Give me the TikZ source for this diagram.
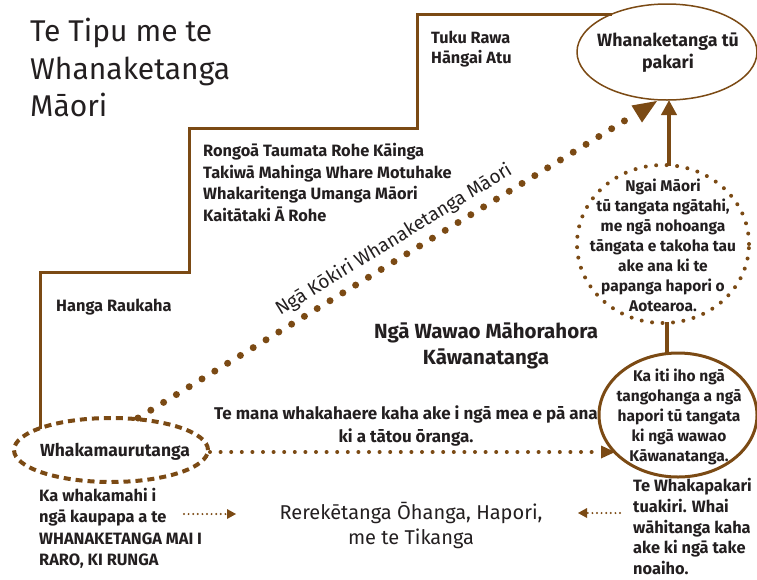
\documentclass[tikz,border=0pt]{standalone}
\usepackage{fontspec}
\setmainfont{Fira Sans}
\usetikzlibrary{shapes.geometric,arrows.meta,calc}
\definecolor{brn}{HTML}{7B4A14}
\definecolor{ink}{HTML}{231F20}
\begin{document}
\begin{tikzpicture}[x=1pt,y=-1pt,
  every node/.style={text=ink},
  bt/.style={font=\bfseries\fontsize{16.4}{21.3}\selectfont, inner sep=0pt},
  rt/.style={font=\fontsize{20}{25}\selectfont, inner sep=0pt},
  titlet/.style={font=\fontsize{30}{37.5}\selectfont, inner sep=0pt},
  ell/.style={ellipse, inner sep=0pt, draw=brn},
  stair/.style={draw=brn, line width=3pt, line join=miter},
  bigdots/.style={draw=brn, line width=7pt, line cap=round, dash pattern=on 0pt off 15pt},
  meddots/.style={draw=brn, line width=4pt, line cap=round, dash pattern=on 0pt off 10.6pt},
  smalldots/.style={draw=brn, line width=2.2pt, line cap=round, dash pattern=on 0pt off 4.6pt},
  thick arrow/.style={draw=brn, line width=4.5pt},
]
\useasboundingbox (0,0) rectangle (757,579);

% ellipses
\node[ell, line width=1.5pt, minimum width=180pt, minimum height=96pt] (top) at (667,52) {};
\node[ell, line width=4pt, dash pattern=on 0pt off 10.5pt, line cap=round, minimum width=172pt, minimum height=158pt] (dc) at (663,244) {};
\node[ell, line width=3pt, minimum width=158pt, minimum height=124pt] (low) at (678,415) {};
\node[ell, line width=4pt, dash pattern=on 7pt off 5pt, minimum width=194pt, minimum height=64pt] (wm) at (111,450) {};

% texts in ellipses
\node[bt, align=center, font=\bfseries\fontsize{17.8}{22}\selectfont] (topt) at (668,53) {Whanaketanga tū\\pakari};
\node[bt, align=center, font=\bfseries\fontsize{15.5}{20}\selectfont] (dct) at (663,245) {Ngai Māori\\tū tangata ngātahi,\\me ngā nohoanga\\tāngata e takoha tau\\ake ana ki te\\papanga hapori o\\Aotearoa.};
\node[bt, align=center, font=\bfseries\fontsize{15.5}{20}\selectfont] (lowt) at (679,417) {Ka iti iho ngā\\tangohanga a ngā\\hapori tū tangata\\ki ngā wawao\\Kāwanatanga.};
\node[bt, font=\bfseries\fontsize{17.5}{21}\selectfont] (wmt) at (115,452) {Whakamaurutanga};

% staircase
\coordinate (s0) at (40,429);
\coordinate (s1) at (40,272);
\coordinate (s2) at (189,272);
\coordinate (s3) at (189,128);
\coordinate (s4) at (417,128);
\coordinate (s5) at (417,14);
\coordinate (s6) at (612,14);
\path[stair] (s0) -- (s1) -- (s2) -- (s3) -- (s4) -- (s5) -- (s6);

% diagonal dotted arrow
\coordinate (d0) at (138,418);
\coordinate (d1) at (657,101);
\path[bigdots] (d0) -- ($(d0)!0.955!(d1)$);
\fill[brn] (d1) -- ++(-25.5,4.5) -- ++(10.5,17) -- cycle;
\node[font=\fontsize{19}{23}\selectfont, inner sep=0pt, rotate=31.5] (kok) at (394,240) {Ngā Kōkiri Whanaketanga Māori};

% vertical connectors
\coordinate (v0) at (669,166);
\coordinate (v1) at (669,100);
\draw[thick arrow, -{Triangle[length=15pt,width=15pt]}] (v0) -- (v1);
\coordinate (w0) at (667,322);
\coordinate (w1) at (667,355);
\draw[thick arrow] (w0) -- (w1);

% horizontal dotted arrow
\coordinate (h0) at (210,452);
\coordinate (h1) at (615,452);
\path[meddots] (h0) -- (601,452);
\fill[brn] (h1) -- ++(-14,-6.5) -- ++(0,13) -- cycle;

% labels
\node[titlet, anchor=north west, align=left] (title) at (30,18) {Te Tipu me te\\Whanaketanga\\Māori};
\node[bt, anchor=north west, align=left, font=\bfseries\fontsize{16.3}{19.5}\selectfont] (tuku) at (431,31) {Tuku Rawa\\Hāngai Atu};
\node[bt, anchor=north west, align=left, font=\bfseries\fontsize{16.4}{21.7}\selectfont] (rong) at (203,143) {Rongoā Taumata Rohe Kāinga\\Takiwā Mahinga Whare Motuhake\\Whakaritenga Umanga Māori\\Kaitātaki Ā Rohe};
\node[bt, anchor=north west] (hanga) at (56,299) {Hanga Raukaha};
\node[bt, align=center, anchor=north, font=\bfseries\fontsize{20.5}{26}\selectfont] (wawao) at (486,323) {Ngā Wawao Māhorahora\\Kāwanatanga};
\node[bt, align=center, anchor=north, font=\bfseries\fontsize{17}{23}\selectfont] (mana) at (406,406) {Te mana whakahaere kaha ake i ngā mea e pā ana\\ki a tātou ōranga.};
\node[bt, anchor=north west, align=left] (kaw) at (39,488) {Ka whakamahi i\\ngā kaupapa a te\\WHANAKETANGA MAI I\\RARO, KI RUNGA};
\node[rt, align=center, anchor=north] (rere) at (411,502) {Rerekētanga Ōhanga, Hapori,\\me te Tikanga};
\node[bt, anchor=north west, align=left, font=\bfseries\fontsize{16.4}{20.8}\selectfont] (whp) at (633,478) {Te Whakapakari\\tuakiri. Whai\\wāhitanga kaha\\ake ki ngā take\\noaiho.};

% small dotted arrows
\coordinate (a0) at (184,514);
\coordinate (a1) at (236,514);
\path[smalldots] (a0) -- (228,514);
\fill[brn] (a1) -- ++(-9,-5) -- ++(0,10) -- cycle;
\coordinate (b0) at (620,513);
\coordinate (b1) at (578,513);
\path[smalldots] (b0) -- (586,513);
\fill[brn] (b1) -- ++(9,-5) -- ++(0,10) -- cycle;
\end{tikzpicture}
\end{document}
